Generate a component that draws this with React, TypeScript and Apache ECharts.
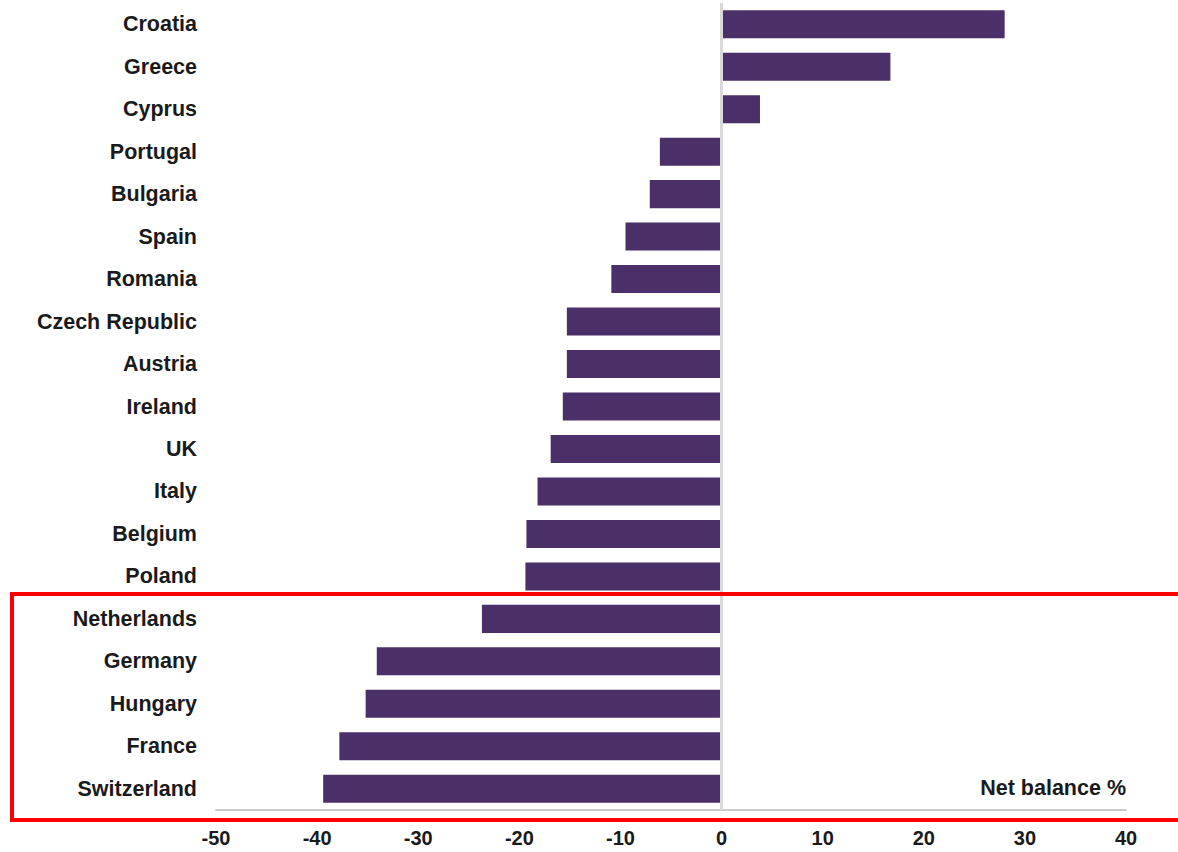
import React, { useEffect, useRef } from "react";
import * as echarts from "echarts";

// Countries, top to bottom
const countries = [
  "Croatia", "Greece", "Cyprus", "Portugal", "Bulgaria", "Spain", "Romania",
  "Czech Republic", "Austria", "Ireland", "UK", "Italy", "Belgium", "Poland",
  "Netherlands", "Germany", "Hungary", "France", "Switzerland",
];

// Net balance, %
const netBalance = [
  28.0, 16.7, 3.8, -6.1, -7.1, -9.5, -10.9,
  -15.3, -15.3, -15.7, -16.9, -18.2, -19.3, -19.4,
  -23.7, -34.1, -35.2, -37.8, -39.4,
];

const xMin = -50;
const xMax = 40;
const xStep = 10;

const FONT = "'Liberation Sans', Arial, sans-serif";

export default function App() {
  const ref = useRef<HTMLDivElement>(null);

  useEffect(() => {
    if (!ref.current) return;
    const chart = echarts.init(ref.current, null, { renderer: "svg" });
    chart.setOption({
      animation: false,
      backgroundColor: "#ffffff",
      grid: { left: 216, right: 52, top: 3, bottom: 42, containLabel: false },
      xAxis: {
        type: "value",
        min: xMin,
        max: xMax,
        interval: xStep,
        axisLine: { show: true, onZero: false, lineStyle: { color: "#cccccc", width: 2 } },
        axisTick: { show: false },
        splitLine: { show: false },
        axisLabel: {
          margin: 18,
          fontSize: 20,
          fontWeight: "bold",
          color: "#1a1a1a",
          fontFamily: FONT,
        },
      },
      yAxis: {
        type: "category",
        data: countries,
        inverse: true,
        axisLine: { show: false },
        axisTick: { show: false },
        axisLabel: {
          margin: 19,
          fontSize: 21.5,
          fontWeight: "bold",
          color: "#1a1a1a",
          fontFamily: FONT,
        },
      },
      series: [
        {
          type: "bar",
          data: netBalance,
          barWidth: "66%",
          itemStyle: { color: "#4b2f69" },
          markLine: {
            silent: true,
            symbol: "none",
            label: { show: false },
            lineStyle: { color: "#d9d9d9", width: 3, type: "solid" },
            data: [{ xAxis: 0 }],
          },
        },
      ],
      graphic: [
        {
          type: "text",
          right: 52,
          top: 777,
          style: {
            text: "Net balance %",
            fontSize: 21.5,
            fontWeight: "bold",
            fill: "#1a1a1a",
            fontFamily: FONT,
          },
        },
        {
          type: "rect",
          shape: { x: 12, y: 594, width: 1180, height: 226 },
          style: { fill: "none", stroke: "#ff0000", lineWidth: 4 },
          z: 100,
        },
      ],
    });
    return () => chart.dispose();
  }, []);

  return (
    <div
      ref={ref}
      style={{ position: "absolute", left: 0, top: 0, width: 1178, height: 852 }}
    />
  );
}
